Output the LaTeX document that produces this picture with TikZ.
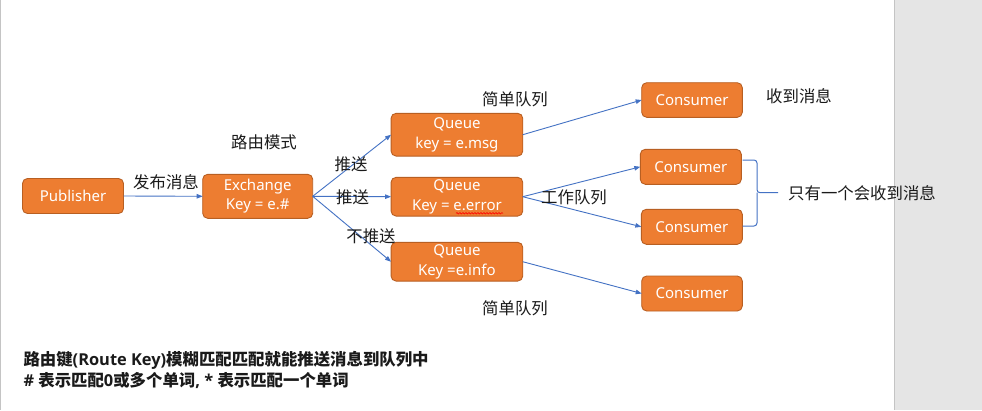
\documentclass[tikz,border=0pt]{standalone}
\usepackage{fontspec}
\setmainfont{Noto Sans CJK SC}
\newfontfamily\latinfont{Noto Sans}
\newfontfamily\notelatin{Open Sans}
\newcommand{\lat}[1]{{\notelatin\bfseries #1}}
\usepackage{xcolor}
\usepackage{tikz}
\usetikzlibrary{arrows.meta,decorations.pathmorphing}
\definecolor{bg}{HTML}{FFFFFF}
\definecolor{side}{HTML}{E5E5E5}
\definecolor{edge}{HTML}{C4C4C4}
\definecolor{box}{HTML}{ED7D31}
\definecolor{boxline}{HTML}{B85F22}
\definecolor{link}{HTML}{4472C4}
\definecolor{ink}{HTML}{1A1A1A}
\tikzset{
  blk/.style={draw=boxline, fill=box, line width=0.9pt, rounded corners=5pt, text=white, align=center,
    inner sep=0pt, outer sep=0pt, font=\latinfont\fontsize{15}{19.4}\selectfont},
  arr/.style={draw=link, line width=0.9pt, -{Triangle[length=6pt,width=4.5pt]}},
  brace/.style={draw=link, line width=1pt, rounded corners=3pt},
  lab/.style={text=ink, font=\fontsize{16.4}{19}\selectfont, inner sep=0pt},
  note/.style={text=ink, font=\fontsize{16.4}{20}\selectfont\bfseries, inner sep=0pt, anchor=west},
}
\begin{document}
\begin{tikzpicture}[x=1pt,y=-1pt]
  \useasboundingbox (0,0) rectangle (982,410);
  \fill[bg] (0,0) rectangle (894,410);
  \fill[side] (894,0) rectangle (982,410);
  \draw[edge, line width=1pt] (894.5,0) -- (894.5,410);
  \draw[edge, line width=1pt] (0.5,0) -- (0.5,410);

  % boxes
  \node[blk, minimum width=101pt, minimum height=35pt] (pub) at (73,196) {Publisher};
  \node[blk, minimum width=110pt, minimum height=44pt] (exch) at (257.7,196.3) {Exchange\\Key = e.\#};
  \node[blk, minimum width=131.7pt, minimum height=42.7pt] (qmsg) at (456.9,134.7) {Queue\\key = e.msg};
  \node[blk, minimum width=131.7pt, minimum height=38.7pt] (qerr) at (456.9,196.7) {Queue\\Key = e.error};
  \node[blk, minimum width=131.7pt, minimum height=38.7pt] (qinfo) at (456.9,261.7) {Queue\\Key =e.info};
  \node[blk, minimum width=100.6pt, minimum height=34.6pt] (cmsg) at (692,100) {Consumer};
  \node[blk, minimum width=101pt, minimum height=35pt] (cerra) at (690.8,166.8) {Consumer};
  \node[blk, minimum width=101pt, minimum height=35pt] (cerrb) at (691.8,226.8) {Consumer};
  \node[blk, minimum width=100.6pt, minimum height=35pt] (cinfo) at (692,293.5) {Consumer};

  % spell-check mark
  \draw[red, line width=0.6pt, decorate, decoration={snake, amplitude=0.7pt, segment length=3pt}]
    (456,213.3) -- (503,213.3);

  % links
  \draw[arr] (pub.east) -- (exch.west);
  \draw[arr] (exch.east) -- (qmsg.west);
  \draw[arr] (exch.east) -- (qerr.west);
  \draw[arr] (exch.east) -- (qinfo.west);
  \draw[arr] (qmsg.east) -- (cmsg.west);
  \draw[arr] (qerr.east) -- (cerra.west);
  \draw[arr] (qerr.east) -- (cerrb.west);
  \draw[arr] (qinfo.east) -- (cinfo.west);

  \draw[brace] (742.7,160) -- (757,160) -- (757,192.7) -- (778,192.7);
  \draw[brace] (742.7,226) -- (757,226) -- (757,192.7);

  % labels
  \node[lab] (lpub) at (166,182.3) {发布消息};
  \node[lab] (lmode) at (264,142.7) {路由模式};
  \node[lab] (lpusha) at (351,164.3) {推送};
  \node[lab] (lpushb) at (352.5,197.3) {推送};
  \node[lab] (lnopush) at (371,236.7) {不推送};
  \node[lab] (lsimplea) at (515,99.3) {简单队列};
  \node[lab] (lwork) at (574,197.3) {工作队列};
  \node[lab] (lsimpleb) at (515,308.3) {简单队列};
  \node[lab] (lgot) at (799,96) {收到消息};
  \node[lab] (lonly) at (862,193.3) {只有一个会收到消息};

  \node[note] (nkey) at (23.3,360.7) {路由键\lat{(Route Key)}模糊匹配匹配就能推送消息到队列中};
  \node[note] (nhash) at (23.3,380.7) {\lat{\# }表示匹配\lat{0}或多个单词\lat{, * }表示匹配一个单词};
\end{tikzpicture}
\end{document}
